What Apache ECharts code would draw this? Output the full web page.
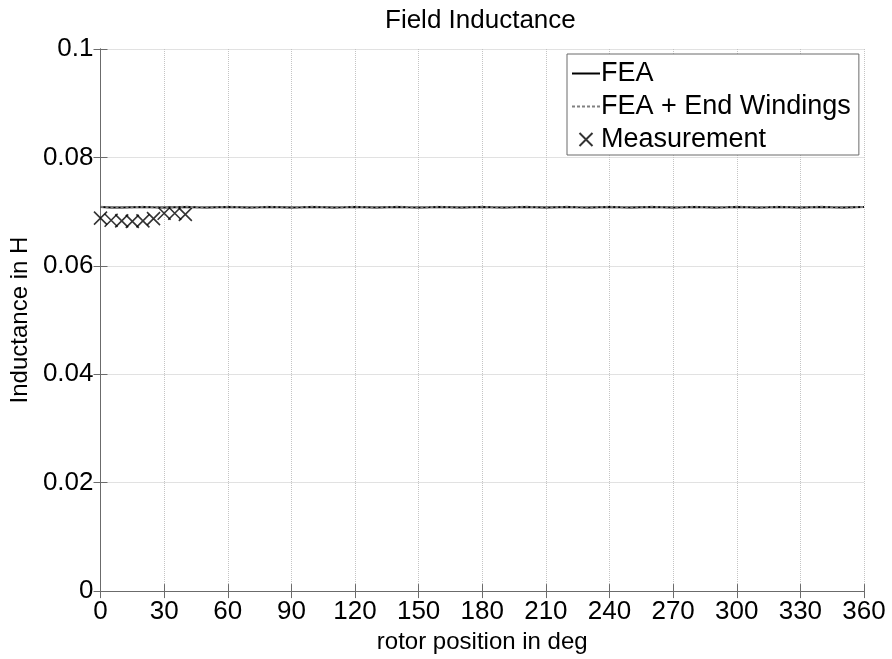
<!DOCTYPE html>
<html>
<head>
<meta charset="utf-8">
<script src="https://cdn.jsdelivr.net/npm/echarts@6/dist/echarts.min.js"></script>
<style>
  html, body { margin: 0; padding: 0; background: #fff; }
  #chart { width: 892px; height: 659px; }
</style>
</head>
<body>
<div id="chart"></div>
<script>
const feaAngles = [0, 5, 10, 15, 20, 25, 30, 35, 40, 45, 50, 55, 60, 65, 70, 75, 80, 85, 90,
  95, 100, 105, 110, 115, 120, 125, 130, 135, 140, 145, 150, 155, 160, 165, 170, 175, 180,
  185, 190, 195, 200, 205, 210, 215, 220, 225, 230, 235, 240, 245, 250, 255, 260, 265, 270,
  275, 280, 285, 290, 295, 300, 305, 310, 315, 320, 325, 330, 335, 340, 345, 350, 355, 360];
const feaValues = [0.07085, 0.07078, 0.07074, 0.07080, 0.07086, 0.07080, 0.07075, 0.07081, 0.07087,
  0.07080, 0.07074, 0.07080, 0.07086, 0.07081, 0.07075, 0.07080, 0.07086, 0.07080, 0.07074,
  0.07080, 0.07087, 0.07081, 0.07075, 0.07080, 0.07086, 0.07080, 0.07074, 0.07081, 0.07087,
  0.07080, 0.07075, 0.07080, 0.07086, 0.07080, 0.07074, 0.07081, 0.07086, 0.07080, 0.07075,
  0.07080, 0.07087, 0.07081, 0.07074, 0.07080, 0.07086, 0.07080, 0.07075, 0.07081, 0.07087,
  0.07080, 0.07074, 0.07080, 0.07086, 0.07081, 0.07075, 0.07080, 0.07086, 0.07080, 0.07074,
  0.07080, 0.07087, 0.07081, 0.07075, 0.07080, 0.07086, 0.07080, 0.07074, 0.07081, 0.07087,
  0.07080, 0.07075, 0.07080, 0.07085];
const endWindingValues = [0.07088, 0.07081, 0.07077, 0.07083, 0.07089, 0.07083, 0.07078, 0.07084, 0.07090,
  0.07083, 0.07077, 0.07083, 0.07089, 0.07084, 0.07078, 0.07083, 0.07089, 0.07083, 0.07077,
  0.07083, 0.07090, 0.07084, 0.07078, 0.07083, 0.07089, 0.07083, 0.07077, 0.07084, 0.07090,
  0.07083, 0.07078, 0.07083, 0.07089, 0.07083, 0.07077, 0.07084, 0.07089, 0.07083, 0.07078,
  0.07083, 0.07090, 0.07084, 0.07077, 0.07083, 0.07089, 0.07083, 0.07078, 0.07084, 0.07090,
  0.07083, 0.07077, 0.07083, 0.07089, 0.07084, 0.07078, 0.07083, 0.07089, 0.07083, 0.07077,
  0.07083, 0.07090, 0.07084, 0.07078, 0.07083, 0.07089, 0.07083, 0.07077, 0.07084, 0.07090,
  0.07083, 0.07078, 0.07083, 0.07088];
const measAngles = [0, 5, 10, 15, 20, 25, 30, 35, 40];
const measValues = [0.0688, 0.0684, 0.0683, 0.0682, 0.0683, 0.0687, 0.0697, 0.0697, 0.0695];
const xTicks = { min: 0, max: 360, step: 30 };
const yTicks = { min: 0, max: 0.1, step: 0.02 };

const font = "'Liberation Sans', Arial, sans-serif";
const boxColor = '#6b6b6b';
const gridColor = '#c4c4c4';

// legend glyphs: solid bar, dashed bar, cross
const solidIcon = 'path://M0,0H28V2H0Z';
const dashIcon = 'path://M0,0h3v2h-3zM5,0h3v2h-3zM10,0h3v2h-3zM15,0h3v2h-3zM20,0h3v2h-3zM25,0h3v2h-3z';
const crossIcon = 'path://M0,0L10,10M10,0L0,10';

const chart = echarts.init(document.getElementById('chart'));

const option = {
  backgroundColor: '#fff',
  animation: false,
  title: {
    text: 'Field Inductance',
    left: 380,
    top: 3,
    textStyle: { fontFamily: font, fontSize: 26, fontWeight: 'normal', color: '#000' }
  },
  legend: {
    orient: 'vertical',
    left: 567,
    top: 54,
    width: 293,
    padding: [6, 8, 2, 5],
    itemGap: 6,
    itemWidth: 28,
    itemHeight: 13,
    backgroundColor: '#fff',
    borderColor: boxColor,
    borderWidth: 1,
    borderRadius: 0,
    textStyle: { fontFamily: font, fontSize: 27, color: '#000', padding: [0, 0, 0, -4] },
    data: [
      { name: 'FEA', icon: solidIcon, itemStyle: { color: '#000' } },
      { name: 'FEA + End Windings', icon: dashIcon, itemStyle: { color: '#808080' } },
      { name: 'Measurement', icon: crossIcon }
    ]
  },
  grid: { left: 99, right: 28, top: 49, bottom: 67 },
  xAxis: [{
    type: 'value',
    min: xTicks.min, max: xTicks.max, interval: xTicks.step,
    name: 'rotor position in deg',
    nameLocation: 'middle',
    nameGap: 27,
    nameTextStyle: { fontFamily: font, fontSize: 24, color: '#000' },
    axisLine: { lineStyle: { color: boxColor, width: 1 } },
    axisTick: { inside: true, length: 7, lineStyle: { color: boxColor } },
    axisLabel: { fontFamily: font, fontSize: 26, color: '#000', margin: 8 },
    splitLine: { show: true, lineStyle: { color: gridColor, type: 'dotted', width: 1 } }
  }, {
    type: 'value', position: 'top',
    min: xTicks.min, max: xTicks.max, interval: xTicks.step,
    axisLine: { show: true, lineStyle: { color: boxColor, width: 1 } },
    axisTick: { inside: true, length: 7, lineStyle: { color: boxColor } },
    axisLabel: { show: false },
    splitLine: { show: false }
  }],
  yAxis: [{
    type: 'value',
    min: yTicks.min, max: yTicks.max, interval: yTicks.step,
    name: 'Inductance in H',
    nameLocation: 'middle',
    nameGap: 66,
    nameTextStyle: { fontFamily: font, fontSize: 24, color: '#000' },
    axisLine: { show: true, lineStyle: { color: boxColor, width: 1 } },
    axisTick: { show: true, inside: true, length: 7, lineStyle: { color: boxColor } },
    axisLabel: { fontFamily: font, fontSize: 26, color: '#000', margin: 7 },
    splitLine: { show: true, lineStyle: { color: gridColor, type: 'dotted', width: 1 } }
  }, {
    type: 'value', position: 'right',
    min: yTicks.min, max: yTicks.max, interval: yTicks.step,
    axisLine: { show: true, lineStyle: { color: boxColor, width: 1 } },
    axisTick: { show: true, inside: true, length: 7, lineStyle: { color: boxColor } },
    axisLabel: { show: false },
    splitLine: { show: false }
  }],
  series: [{
    name: 'FEA',
    type: 'line',
    symbol: 'none',
    lineStyle: { color: '#000', width: 2 },
    itemStyle: { color: '#000' },
    data: feaAngles.map((a, i) => [a, feaValues[i]])
  }, {
    name: 'FEA + End Windings',
    type: 'line',
    symbol: 'none',
    lineStyle: { color: '#808080', width: 2, type: [3, 2] },
    itemStyle: { color: '#808080' },
    data: feaAngles.map((a, i) => [a, endWindingValues[i]])
  }, {
    name: 'Measurement',
    type: 'scatter',
    symbol: crossIcon,
    symbolSize: 13,
    itemStyle: { color: 'none', borderColor: '#000', borderWidth: 1.6 },
    data: measAngles.map((a, i) => [a, measValues[i]])
  }]
};

chart.setOption(option);
</script>
</body>
</html>
